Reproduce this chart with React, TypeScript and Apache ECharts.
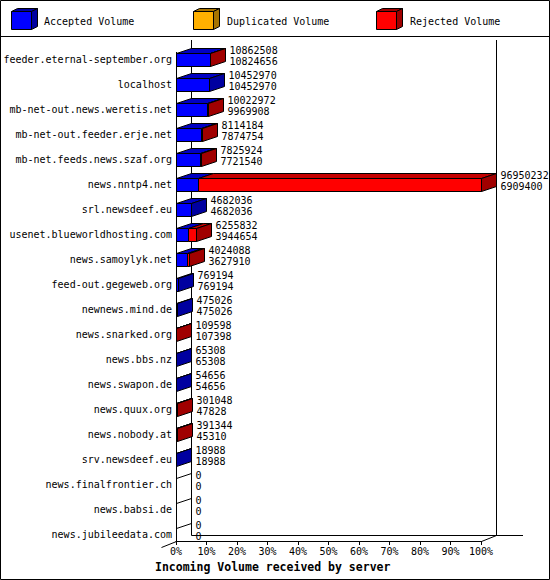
import React, { useEffect, useRef } from 'react';
import * as echarts from 'echarts';

// server names, top to bottom
const categories = [
  'feeder.eternal-september.org',
  'localhost',
  'mb-net-out.news.weretis.net',
  'mb-net-out.feeder.erje.net',
  'mb-net.feeds.news.szaf.org',
  'news.nntp4.net',
  'srl.newsdeef.eu',
  'usenet.blueworldhosting.com',
  'news.samoylyk.net',
  'feed-out.gegeweb.org',
  'newnews.mind.de',
  'news.snarked.org',
  'news.bbs.nz',
  'news.swapon.de',
  'news.quux.org',
  'news.nobody.at',
  'srv.newsdeef.eu',
  'news.finalfrontier.ch',
  'news.babsi.de',
  'news.jubileedata.com',
];

const accepted = [
  10824656, 10452970, 9969908, 7874754, 7721540, 6909400, 4682036, 3944654, 3627910, 769194,
  475026, 107398, 65308, 54656, 47828, 45310, 18988, 0, 0, 0,
];
const duplicated = [0, 0, 0, 0, 0, 0, 0, 0, 0, 0, 0, 0, 0, 0, 0, 0, 0, 0, 0, 0];
const rejected = [
  37852, 0, 53064, 239430, 104384, 90040832, 0, 2311178, 396178, 0,
  0, 2200, 0, 0, 253220, 346034, 0, 0, 0, 0,
];

const legendNames = ['Accepted Volume', 'Duplicated Volume', 'Rejected Volume'];
const frontColors = ['#0000ff', '#ffb000', '#ff0000'];
const topColors = ['#0000c4', '#c88a00', '#c40000'];
const sideColors = ['#0000a0', '#a87400', '#a00000'];

const FONT = '"DejaVu Sans Mono", "Liberation Mono", monospace';
const DX = 15;
const DY = 5;

const totals = categories.map((_, i) => accepted[i] + duplicated[i] + rejected[i]);
const maxTotal = Math.max(...totals);

const App: React.FC = () => {
  const chartRef = useRef<HTMLDivElement>(null);

  useEffect(() => {
    if (!chartRef.current) return;
    const chart = echarts.init(chartRef.current, null, { renderer: 'svg' });

    const px = (v: number) => Math.round(v) + 0.5;

    const renderBar = (params: any, api: any) => {
      const i = params.dataIndex;
      const vals = [accepted[i], duplicated[i], rejected[i]];
      const [x0raw, cy] = api.coord([0, i]);
      const h = 13;
      const x0 = px(x0raw);
      const yT = px(cy - h / 2);
      const yB = yT + h;
      const children: any[] = [];
      let xe = x0;
      if (totals[i] === 0) {
        children.push({
          type: 'line',
          shape: { x1: x0, y1: yT, x2: x0 + DX, y2: yT - DY },
          style: { stroke: '#000', lineWidth: 1 },
        });
      } else {
        let cum = 0;
        let last = 0;
        vals.forEach((v, k) => {
          if (v <= 0) return;
          const xa = px(api.coord([(cum / maxTotal) * 100, i])[0]);
          cum += v;
          const xb = px(api.coord([(cum / maxTotal) * 100, i])[0]);
          children.push({
            type: 'polygon',
            shape: { points: [[xa, yT], [xb, yT], [xb + DX, yT - DY], [xa + DX, yT - DY]] },
            style: { fill: topColors[k], stroke: '#000', lineWidth: 1 },
          });
          children.push({
            type: 'rect',
            shape: { x: xa, y: yT, width: xb - xa, height: h },
            style: { fill: frontColors[k], stroke: '#000', lineWidth: 1 },
          });
          last = k;
          xe = xb;
        });
        children.push({
          type: 'polygon',
          shape: { points: [[xe, yT], [xe + DX, yT - DY], [xe + DX, yB - DY], [xe, yB]] },
          style: { fill: sideColors[last], stroke: '#000', lineWidth: 1 },
        });
      }
      children.push({
        type: 'text',
        style: {
          text: `${totals[i]}\n${accepted[i]}`,
          x: xe + DX + 4,
          y: cy - 3.5,
          fill: '#000',
          fontFamily: FONT,
          fontSize: 10,
          lineHeight: 11,
          verticalAlign: 'middle',
          align: 'left',
        },
      });
      return { type: 'group', children };
    };

    // legend boxes
    const legendX = [11, 193, 376];
    const legendTextX = [44, 227, 410];
    const legendEls: any[] = [];
    legendNames.forEach((name, k) => {
      const x = legendX[k] + 0.5;
      const y = 11.5;
      const w = 20;
      const hh = 18;
      legendEls.push({
        type: 'polygon',
        shape: { points: [[x, y], [x + w, y], [x + w + 6, y - 3], [x + 6, y - 3]] },
        style: { fill: sideColors[k], stroke: '#000', lineWidth: 1 },
      });
      legendEls.push({
        type: 'polygon',
        shape: { points: [[x + w, y], [x + w + 6, y - 3], [x + w + 6, y + hh - 3], [x + w, y + hh]] },
        style: { fill: sideColors[k], stroke: '#000', lineWidth: 1 },
      });
      legendEls.push({
        type: 'rect',
        shape: { x, y, width: w, height: hh },
        style: { fill: frontColors[k], stroke: '#000', lineWidth: 1 },
      });
      legendEls.push({
        type: 'text',
        style: {
          text: name,
          x: legendTextX[k],
          y: 21,
          fill: '#000',
          fontFamily: FONT,
          fontSize: 10,
          verticalAlign: 'middle',
        },
      });
    });

    // frame and 3d walls
    const line = (x1: number, y1: number, x2: number, y2: number) => ({
      type: 'line',
      shape: { x1, y1, x2, y2 },
      style: { stroke: '#000', lineWidth: 1 },
    });
    const frameEls: any[] = [
      {
        type: 'rect',
        shape: { x: 0.5, y: 0.5, width: 549, height: 579 },
        style: { fill: 'none', stroke: '#000', lineWidth: 1 },
      },
      line(0, 36.5, 550, 36.5),
      line(191.5, 40, 191.5, 535.5),
      line(496.5, 40, 496.5, 535.5),
      line(191.5, 535.5, 523, 535.5),
      line(481.5, 541.5, 496.5, 535.5),
      line(176.5, 52, 176.5, 541.5),
      line(161.5, 547.5, 176.5, 541.5),
    ];

    const option = {
      animation: false,
      backgroundColor: '#fff',
      title: {
        text: 'Incoming Volume received by server',
        left: 155,
        top: 561,
        padding: 0,
        textStyle: { fontFamily: FONT, fontSize: 11.5, fontWeight: 'bold', color: '#000' },
      },
      graphic: [...frameEls, ...legendEls],
      grid: { left: 176, right: 69, top: 46.5, bottom: 33.5, containLabel: false },
      xAxis: {
        type: 'value',
        min: 0,
        max: 100,
        interval: 10,
        offset: -5.5,
        axisLine: { show: true, lineStyle: { color: '#000', width: 1 } },
        axisTick: { show: true, length: 4, lineStyle: { color: '#000' } },
        axisLabel: {
          formatter: '{value}%',
          fontFamily: FONT,
          fontSize: 10,
          color: '#000',
          margin: 5,
        },
        splitLine: { show: false },
      },
      yAxis: {
        type: 'category',
        data: categories,
        inverse: true,
        axisLine: { show: false },
        axisTick: { show: false },
        axisLabel: { fontFamily: FONT, fontSize: 10, color: '#000', margin: 4 },
        splitLine: { show: false },
      },
      series: [
        {
          type: 'custom',
          renderItem: renderBar,
          clip: false,
          data: categories.map((_, i) => [(totals[i] / maxTotal) * 100, i]),
          encode: { x: 0, y: 1 },
          z: 3,
        },
      ],
    };

    chart.setOption(option);
    return () => {
      chart.dispose();
    };
  }, []);

  return (
    <div
      ref={chartRef}
      style={{ position: 'absolute', left: 0, top: 0, width: 550, height: 580, background: '#fff' }}
    />
  );
};

export default App;
